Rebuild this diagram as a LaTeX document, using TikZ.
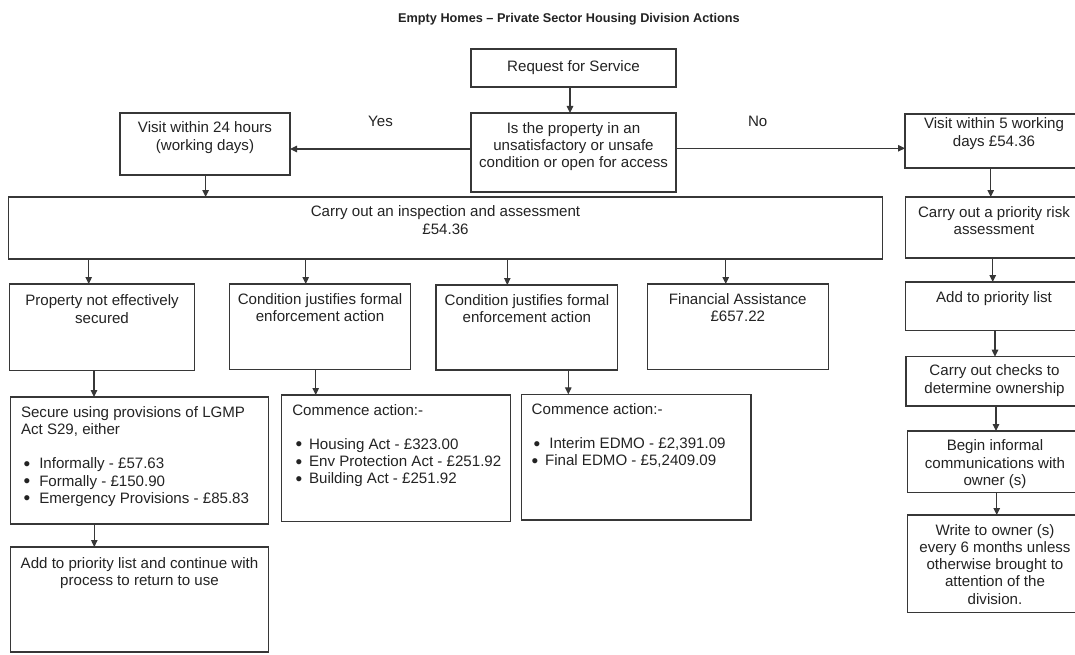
\documentclass[tikz,border=0pt]{standalone}
\usepackage{fontspec}
\setmainfont{Liberation Sans}
\usetikzlibrary{arrows.meta}
\definecolor{ink}{RGB}{35,35,35}
\definecolor{edge}{RGB}{55,55,55}
\newcommand\bigbul{\raisebox{-1.5pt}{\fontsize{19}{17.2}\selectfont\textbullet}}
\tikzset{
  box/.style={draw=edge, line width=1.25pt, inner sep=0pt, outer sep=0pt},
  txt/.style={text=ink, inner sep=0pt, outer sep=0pt, align=center, font=\fontsize{15.1}{17.2}\selectfont},
  ltxt/.style={txt, align=left, anchor=north west},
  lbl/.style={txt, anchor=base},
  arr/.style={draw=edge, line width=1.1pt, -{Triangle[length=7pt,width=6.5pt]}},
}
\newcommand\fbx[5]{\node[box, minimum width={(#4-#2)*1pt}, minimum height={(#5-#3)*1pt}, anchor=north west] (#1) at (#2,#3) {};}
\begin{document}
\begin{tikzpicture}[x=1pt,y=-1pt]
\useasboundingbox (0,0) rectangle (1075,655);
\clip (0,0) rectangle (1075,655);
\fill[white] (0,0) rectangle (1075,655);

% title
\node[text=ink, inner sep=0pt, anchor=base, font=\bfseries\fontsize{12.7}{15}\selectfont] (title) at (569,22.5) {Empty Homes – Private Sector Housing Division Actions};

% boxes
\fbx{req}{471}{49}{676}{87}
\fbx{dec}{471}{113}{676}{192}
\fbx{v24}{120}{113}{290}{175}
\fbx{v5}{905}{114}{1083}{168}
\fbx{insp}{8.5}{197}{882.5}{259}
\fbx{risk}{905.5}{197}{1083}{258}
\fbx{prop}{9.3}{284}{194.7}{370.5}
\fbx{condA}{229.3}{284}{410.7}{369.5}
\fbx{condB}{436}{285}{617.7}{370}
\fbx{fin}{647.3}{284}{828.3}{369.3}
\fbx{addR}{905.5}{282}{1083}{330.7}
\fbx{checks}{906}{356.7}{1083}{406}
\fbx{begin}{907.3}{431}{1083}{492.3}
\fbx{write}{907.7}{515}{1083}{612.3}
\fbx{secure}{10.7}{397}{268.3}{524}
\fbx{addL}{10.7}{547}{268.3}{652}
\fbx{comA}{281.7}{395}{510.7}{521.7}
\fbx{comB}{521.7}{394.3}{751}{520}

% centred texts
\node[txt] (treq) at (req.center) {Request for Service};
\node[txt, anchor=north] (tdec) at (573.5,122.3) {Is the property in an\\unsatisfactory or unsafe\\condition or open for access};
\node[txt, anchor=north] (tv24) at (205,122) {Visit within 24 hours\\(working days)};
\node[txt, anchor=north] (tv5) at (994,118) {Visit within 5 working\\days £54.36};
\node[txt, anchor=north] (tinsp) at (445.5,206) {Carry out an inspection and assessment\\£54.36};
\node[txt, anchor=north] (trisk) at (994,206.3) {Carry out a priority risk\\assessment};
\node[txt, anchor=north] (tprop) at (102,295) {Property not effectively\\secured};
\node[txt, anchor=north] (tcondA) at (320,293.7) {Condition justifies formal\\enforcement action};
\node[txt, anchor=north] (tcondB) at (526.9,294.2) {Condition justifies formal\\enforcement action};
\node[txt, anchor=north] (tfin) at (737.8,293.7) {Financial Assistance\\£657.22};
\node[txt, anchor=north] (taddR) at (994,292) {Add to priority list};
\node[txt, anchor=north] (tchecks) at (994.5,365) {Carry out checks to\\determine ownership};
\node[txt, anchor=north] (tbegin) at (995,440) {Begin informal\\communications with\\owner (s)};
\node[txt, anchor=north] (twrite) at (995,524.3) {Write to owner (s)\\every 6 months unless\\otherwise brought to\\attention of the\\division.};
\node[txt, anchor=north] (taddL) at (139.5,557.3) {Add to priority list and continue with\\process to return to use};

% labels
\node[lbl] (yes) at (380.5,127) {Yes};
\node[lbl] (no) at (757.7,127) {No};

% box texts with bullet lists
\node[ltxt] (tsecure) at (21,406.4) {Secure using provisions of LGMP\\Act S29, either\\[17.2pt]%
\hspace*{2.7pt}\bigbul\hspace*{8.9pt}Informally - £57.63\\%
\hspace*{2.7pt}\bigbul\hspace*{8.9pt}Formally - £150.90\\%
\hspace*{2.7pt}\bigbul\hspace*{8.9pt}Emergency Provisions - £85.83};

\node[ltxt] (tcomA) at (292.3,404.1) {Commence action:-\\[17.2pt]%
\hspace*{3.4pt}\bigbul\hspace*{6.7pt}Housing Act - £323.00\\%
\hspace*{3.4pt}\bigbul\hspace*{6.7pt}Env Protection Act - £251.92\\%
\hspace*{3.4pt}\bigbul\hspace*{6.7pt}Building Act - £251.92};

\node[ltxt] (tcomB) at (531.7,403.4) {Commence action:-\\[17.2pt]%
\hspace*{2pt}\bigbul\hspace*{9pt}Interim EDMO - £2,391.09\\%
\bigbul\hspace*{6.7pt}Final EDMO - £5,2409.09};

% connectors
\draw[arr] (570,0 |- req.south) -- (570,0 |- dec.north);
\draw[arr] (dec.west |- 0,149) -- (v24.east |- 0,149);
\draw[arr] (dec.east |- 0,148.3) -- (v5.west |- 0,148.3);
\draw[arr] (205.6,0 |- v24.south) -- (205.6,0 |- insp.north);
\draw[arr] (88.7,0 |- insp.south) -- (88.7,0 |- prop.north);
\draw[arr] (305.7,0 |- insp.south) -- (305.7,0 |- condA.north);
\draw[arr] (507.3,0 |- insp.south) -- (507.3,0 |- condB.north);
\draw[arr] (725.7,0 |- insp.south) -- (725.7,0 |- fin.north);
\draw[arr] (94,0 |- prop.south) -- (94,0 |- secure.north);
\draw[arr] (94.3,0 |- secure.south) -- (94.3,0 |- addL.north);
\draw[arr] (315.7,0 |- condA.south) -- (315.7,0 |- comA.north);
\draw[arr] (568.3,0 |- condB.south) -- (568.3,0 |- comB.north);
\draw[arr] (990.7,0 |- v5.south) -- (990.7,0 |- risk.north);
\draw[arr] (992.7,0 |- risk.south) -- (992.7,0 |- addR.north);
\draw[arr] (995,0 |- addR.south) -- (995,0 |- checks.north);
\draw[arr] (996,0 |- checks.south) -- (996,0 |- begin.north);
\draw[arr] (996.7,0 |- begin.south) -- (996.7,0 |- write.north);
\end{tikzpicture}
\end{document}
